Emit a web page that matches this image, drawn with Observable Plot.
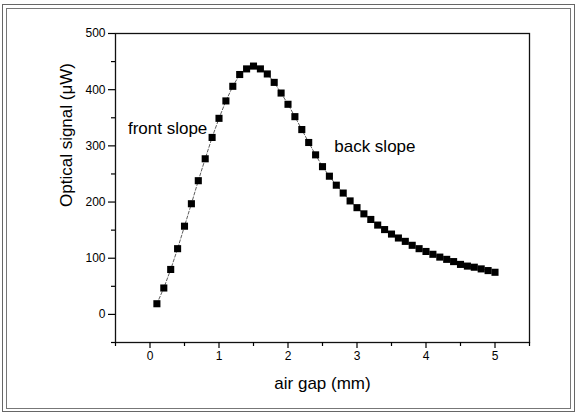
<!DOCTYPE html>
<html>
<head>
<meta charset="utf-8">
<script src="https://cdn.jsdelivr.net/npm/d3@7"></script>
<script src="https://cdn.jsdelivr.net/npm/@observablehq/plot@0.6"></script>
<style>
  html, body { margin: 0; padding: 0; background: #fff; }
  #wrap { position: relative; width: 580px; height: 416px; overflow: hidden; font-family: "Liberation Sans", Arial, sans-serif; }
  #wrap svg { position: absolute; left: 0; top: 0; }
  .b1 { position: absolute; left: 2px; top: 4px; width: 573px; height: 408px; border: 1px solid #666; box-sizing: border-box; }
  .b2 { position: absolute; left: 6px; top: 8px; width: 565px; height: 401px; border: 1px solid #777; box-sizing: border-box; }
</style>
</head>
<body>
<div id="wrap"><div class="b1"></div><div class="b2"></div></div>
<script>
const gap = [0.1,0.2,0.3,0.4,0.5,0.6,0.7,0.8,0.9,1.0,
             1.1,1.2,1.3,1.4,1.5,1.6,1.7,1.8,1.9,2.0,
             2.1,2.2,2.3,2.4,2.5,2.6,2.7,2.8,2.9,3.0,
             3.1,3.2,3.3,3.4,3.5,3.6,3.7,3.8,3.9,4.0,
             4.1,4.2,4.3,4.4,4.5,4.6,4.7,4.8,4.9,5.0];
const signal = [19,47,80,117,157,197,238,277,315,349,
                380,406,427,437,442,437,428,413,394,374,
                352,329,306,284,263,246,230,216,202,190,
                179,169,159,151,143,136,130,123,117,112,
                107,102,98,94,89,86,84,81,78,75];
const xMajor = [0,1,2,3,4,5];
const xMinor = [-0.5,0.5,1.5,2.5,3.5,4.5,5.5];
const yMajor = [0,100,200,300,400,500];
const yMinor = [-50,50,150,250,350,450];
const annotations = [
  {x: -0.32, y: 331, text: "front slope"},
  {x: 2.67, y: 298, text: "back slope"}
];

const data = gap.map((g, i) => ({gap: g, signal: signal[i]}));
const FS = 17;

const chart = Plot.plot({
  width: 580,
  height: 416,
  marginLeft: 115,
  marginRight: 51,
  marginTop: 33,
  marginBottom: 74,
  style: {fontFamily: "'Liberation Sans', Arial, sans-serif", background: "transparent", color: "#000"},
  x: {domain: [-0.5, 5.5]},
  y: {domain: [-50, 500]},
  marks: [
    Plot.frame({stroke: "#111", strokeWidth: 1.3}),
    Plot.axisX(xMajor, {tickSize: 6, tickPadding: 3, fontSize: 12, label: null, strokeWidth: 1.2}),
    Plot.axisX(xMinor, {tickSize: 4, tickFormat: () => "", label: null, strokeWidth: 1.2}),
    Plot.axisY(yMajor, {tickSize: 7, tickPadding: 3, fontSize: 12, label: null, strokeWidth: 1.2}),
    Plot.axisY(yMinor, {tickSize: 4, tickFormat: () => "", label: null, strokeWidth: 1.2}),
    Plot.line(data, {x: "gap", y: "signal", stroke: "#333", strokeWidth: 0.8, strokeDasharray: "3,2"}),
    Plot.dot(data, {x: "gap", y: "signal", symbol: "square", r: 4, fill: "#000", stroke: "none"}),
    Plot.text(annotations, {x: "x", y: "y", text: "text", textAnchor: "start", fontSize: FS, fill: "#000"}),
    Plot.text(["Optical signal (\u03bcW)"], {frameAnchor: "left", dx: -49, dy: 19, rotate: -90, lineAnchor: "middle", fontSize: FS, fill: "#000"}),
    Plot.text(["air gap (mm)"], {frameAnchor: "bottom", dy: 41, lineAnchor: "middle", fontSize: FS, fill: "#000"})
  ]
});
document.getElementById("wrap").appendChild(chart);
</script>
</body>
</html>
